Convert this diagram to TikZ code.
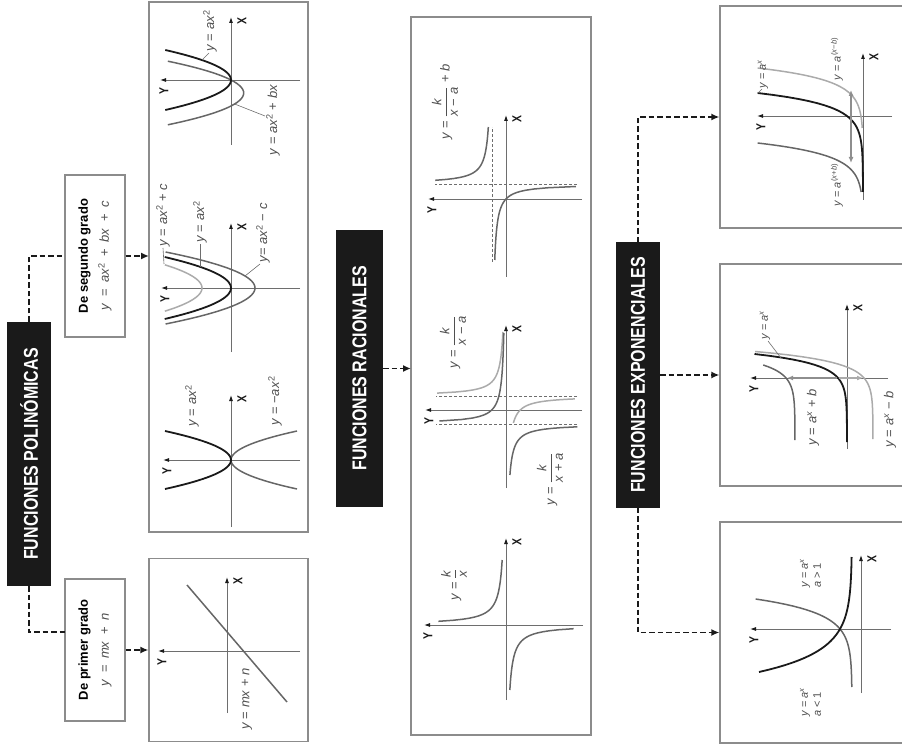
\documentclass[tikz,border=0pt]{standalone}
\usepackage{fontspec}
\usepackage{amsmath}
\usepackage{graphicx}
\setmainfont{Liberation Sans}
\usetikzlibrary{arrows.meta}

\definecolor{boxgray}{HTML}{8C8C8C}
\definecolor{axgray}{HTML}{6E6E6E}
\definecolor{midgray}{HTML}{666666}
\definecolor{lightgray2}{HTML}{ABABAB}
\definecolor{arrgray}{HTML}{8E8E8E}
\definecolor{labgray}{HTML}{505050}
\definecolor{ink}{HTML}{1A1A1A}

\newcommand\iv[1]{\textit{#1}}
\newcommand\tsc[1]{\scalebox{0.8}[1]{#1}}
% axes of one small graph: name, xmin, xmax, ymin, ymax
\newcommand\axes[5]{%
  \draw[axisline] (#2,0) -- (#3,0);
  \draw[axisline] (0,#4) -- (0,#5);
  \node[axlab] (#1x) at (#3-4,-11) {\tsc{X}};
  \node[axlab] (#1y) at (-11,#5-4) {\tsc{Y}};
}

\tikzset{
  title/.style={fill=ink, text=white, inner sep=0pt,
    font=\bfseries\fontsize{20}{24}\selectfont},
  subbox/.style={draw=boxgray, line width=1.1pt, fill=white, align=center,
    inner sep=0pt, font=\fontsize{13}{21}\selectfont},
  graphbox/.style={draw=boxgray, line width=1.2pt, inner sep=0pt},
  conn/.style={draw=ink, line width=1.8pt, dash pattern=on 5.5pt off 3pt},
  arr/.style={-{Latex[length=8pt,width=7pt]}},
  axisline/.style={draw=axgray, line width=0.9pt, -{Latex[length=6pt,width=4pt,color=ink]}},
  axlab/.style={font=\bfseries\fontsize{13}{13}\selectfont, text=ink, inner sep=0pt},
  lab/.style={font=\fontsize{13}{15}\selectfont, text=labgray, inner sep=0pt},
  smalllab/.style={font=\fontsize{11}{13}\selectfont, text=labgray, inner sep=0pt},
  cblack/.style={draw=ink, line width=1.8pt},
  cgray/.style={draw=midgray, line width=1.5pt},
  clight/.style={draw=lightgray2, line width=1.5pt},
  asym/.style={draw=axgray, line width=0.9pt, dash pattern=on 3pt off 2pt},
  lead/.style={draw=axgray, line width=0.6pt},
  shift arrow/.style={line width=1.2pt, -{Latex[length=6pt,width=5pt]}},
}

\begin{document}
\begin{tikzpicture}[x=1pt,y=1pt]
\useasboundingbox (0,0) rectangle (902,-751);
% the whole chart is laid out upright and turned a quarter turn
\begin{scope}[shift={(0,-751)}, rotate=90, transform shape]
\clip (0,0) rectangle (751,-902);

% ---------- boxes ----------
\node[title, minimum width=264, minimum height=44] (poli) at (297,-29) {\tsc{FUNCIONES POLINÓMICAS}};
\node[subbox, minimum width=142, minimum height=60] (primer) at (101,-95)
  {\textbf{De primer grado}\\{\color{labgray}\iv{y}\enspace=\enspace\iv{mx}\enspace+\enspace\iv{n}}};
\node[subbox, minimum width=162, minimum height=60] (segundo) at (495,-95)
  {\textbf{De segundo grado}\\{\color{labgray}\iv{y}\enspace=\enspace\iv{ax}\textsuperscript{2}\enspace+\enspace\iv{bx}\enspace+\enspace\iv{c}}};
\node[graphbox, minimum width=183, minimum height=159] (g1) at (101,-228.5) {};
\node[graphbox, minimum width=530, minimum height=159] (g2) at (484,-228.5) {};
\node[title, minimum width=277, minimum height=47] (rac) at (382.5,-359.5) {\tsc{FUNCIONES RACIONALES}};
\node[graphbox, minimum width=718, minimum height=180] (g3) at (375,-501) {};
\node[title, minimum width=265, minimum height=44] (expo) at (376,-638) {\tsc{FUNCIONES EXPONENCIALES}};
\node[graphbox, minimum width=221, minimum height=190] (g4) at (118.5,-815) {};
\node[graphbox, minimum width=222, minimum height=190] (g5) at (376,-815) {};
\node[graphbox, minimum width=222, minimum height=190] (g6) at (634,-815) {};

% ---------- connectors ----------
\coordinate (j1) at (119,-29);
\coordinate (e1) at (119,-65);
\draw[conn] (poli.west) -- (j1) -- (e1);
\coordinate (j2) at (495,-29);
\draw[conn] (poli.east) -- (j2) -- (segundo.north);
\draw[conn,arr] (primer.south) -- (g1.north);
\coordinate (e2) at (495,-149);
\draw[conn,arr] (segundo.south) -- (e2);
\coordinate (e3) at (382.5,-411);
\draw[conn,arr] (rac.south) -- (e3);
\coordinate (j3) at (118.5,-638);
\draw[conn,arr] (expo.west) -- (j3) -- (g4.north);
\draw[conn,arr] (expo.south) -- (g5.north);
\coordinate (j4) at (634,-638);
\draw[conn,arr] (expo.east) -- (j4) -- (g6.north);

% ---------- y = mx + n ----------
\begin{scope}[shift={(100,-227)}]
  \axes{ga}{-62}{74}{-73}{69}
  \draw[cgray] (66,40) -- (-51,-60);
  \node[lab] (la) at (-48,-20) {\iv{y} = \iv{mx} + \iv{n}};
\end{scope}

% ---------- y = ax^2 and y = -ax^2 ----------
\begin{scope}[shift={(291,-231)}]
  \axes{gb}{-67}{65}{-69}{68}
  \draw[cgray, domain=-29:29, samples=41] plot (\x,{-0.0785*\x*\x});
  \draw[cblack, domain=-29:29, samples=41] plot (\x,{0.0785*\x*\x});
  \node[lab] (lb1) at (54,39) {\iv{y} = \iv{ax}\textsuperscript{2}};
  \node[lab] (lb2) at (59,-44) {\iv{y} = −\iv{ax}\textsuperscript{2}};
\end{scope}

% ---------- vertical shifts of the parabola ----------
\begin{scope}[shift={(463,-231)}]
  \axes{gc}{-64}{65}{-69}{70}
  \draw[clight, domain=-23.2:23.2, samples=41] plot (\x,{0.069*\x*\x+29});
  \draw[cgray, domain=-36:36, samples=41] plot (\x,{0.069*\x*\x-24});
  \draw[cblack, domain=-31:31, samples=41] plot (\x,{0.069*\x*\x});
  \draw[lead] (24,67) -- (40,68);
  \node[lab, anchor=west] (lc1) at (41,68) {\iv{y} = \iv{ax}\textsuperscript{2} + \iv{c}};
  \draw[lead] (21,31) -- (44,31);
  \node[lab, anchor=west] (lc2) at (45,31) {\iv{y} = \iv{ax}\textsuperscript{2}};
  \draw[lead] (12,-14) -- (24,-29);
  \node[lab, anchor=west] (lc3) at (25,-32) {\iv{y}= \iv{ax}\textsuperscript{2} − \iv{c}};
\end{scope}

% ---------- y = ax^2 + bx ----------
\begin{scope}[shift={(671,-231)}]
  \axes{gd}{-65}{63}{-69}{71}
  \draw[cgray, domain=-44.8:18.8, samples=41] plot (\x,{0.075*(\x+13)*(\x+13)-12.7});
  \draw[cblack, domain=-30:30, samples=41] plot (\x,{0.073*\x*\x});
  \draw[lead] (20,29) -- (27,22);
  \node[lab, anchor=west] (ld1) at (28,21) {\iv{y} = \iv{ax}\textsuperscript{2}};
  \draw[lead] (-24,-3.6) -- (-36,-34);
  \node[lab] (ld2) at (-40,-42) {\iv{y} = \iv{ax}\textsuperscript{2} + \iv{bx}};
\end{scope}

% ---------- y = k/x ----------
\begin{scope}[shift={(126,-506)}]
  \axes{ge}{-75}{87}{-77}{82}
  \draw[cgray, domain=3.7:65, samples=60] plot (\x,{250/\x});
  \draw[cgray, domain=-65:-3.7, samples=60] plot (\x,{250/\x});
  \node[lab] (le) at (40,52) {$\text{\iv{y} = }\dfrac{\text{\iv{k}}}{\text{\iv{x}}}$};
\end{scope}

% ---------- horizontal shifts of the hyperbola ----------
\begin{scope}[shift={(341,-506)}]
  \axes{gf}{-78}{85}{-76}{81}
  \draw[asym] (14,-71) -- (14,70);
  \draw[asym] (-14,-71) -- (-14,70);
  \draw[clight, domain=16.9:78, samples=60] plot (\x,{200/(\x-14)});
  \draw[clight, domain=-13:11.1, samples=60] plot (\x,{200/(\x-14)});
  \draw[cgray, domain=-11:77, samples=60] plot (\x,{200/(\x+14)});
  \draw[cgray, domain=-65:-16.8, samples=60] plot (\x,{200/(\x+14)});
  \node[lab] (lf1) at (68,53) {$\text{\iv{y} = }\dfrac{\text{\iv{k}}}{\text{\iv{x} − \iv{a}}}$};
  \node[lab] (lf2) at (-69,-44) {$\text{\iv{y} = }\dfrac{\text{\iv{k}}}{\text{\iv{x} + \iv{a}}}$};
\end{scope}

% ---------- shifted hyperbola ----------
\begin{scope}[shift={(552,-506)}]
  \axes{gg}{-78}{84}{-76}{78}
  \draw[asym] (-63,14) -- (72,14);
  \draw[asym] (15,-71) -- (15,71);
  \draw[cgray, domain=18.7:72, samples=60] plot (\x,{210/(\x-15)+14});
  \draw[cgray, domain=-61:12.5, samples=60] plot (\x,{210/(\x-15)+14});
  \node[lab] (lg) at (97,61) {$\text{\iv{y} = }\dfrac{\text{\iv{k}}}{\text{\iv{x} − \iv{a}}}\text{ + \iv{b}}$};
\end{scope}

% ---------- y = a^x, a > 1 and a < 1 ----------
\begin{scope}[shift={(122,-861)}]
  \axes{gh}{-64}{74}{-30}{111}
  \draw[cgray, domain=-58:30, samples=50] plot (\x,{9+12*exp(\x/14.4)});
  \draw[cblack, domain=-43:72, samples=50] plot (\x,{9+12*exp(-\x/21)});
  \node[smalllab, anchor=west, align=left] (lh1) at (41,50.5) {\iv{y} = \iv{a}\textsuperscript{\iv{x}}\\\iv{a} > 1};
  \node[smalllab, anchor=west, align=left] (lh2) at (-88,50.5) {\iv{y} = \iv{a}\textsuperscript{\iv{x}}\\\iv{a} < 1};
\end{scope}

% ---------- vertical shifts of the exponential ----------
\begin{scope}[shift={(373,-847)}]
  \axes{gi}{-71}{74}{-41}{97}
  \draw[clight, domain=-61:26.5, samples=50] plot (\x,{-26+9*exp(\x/10.3)});
  \draw[cgray, domain=-62:13, samples=50] plot (\x,{52+9*exp(\x/10.3)});
  \draw[cblack, domain=-64:24, samples=50] plot (\x,{9*exp(\x/10.3)});
  \draw[shift arrow, draw=arrgray] (0,10) -- (0,60);
  \draw[shift arrow, draw=lightgray2] (0,8) -- (0,-16);
  \draw[lead] (20,66) -- (37,79);
  \node[smalllab, anchor=west] (li1) at (38,82) {\iv{y} = \iv{a}\textsuperscript{\iv{x}}};
  \node[lab] (li2) at (-39.5,34) {\iv{y} = \iv{a}\textsuperscript{\iv{x}} + \iv{b}};
  \node[lab] (li3) at (-41.5,-43) {\iv{y} = \iv{a}\textsuperscript{\iv{x}} − \iv{b}};
\end{scope}

% ---------- horizontal shifts of the exponential ----------
\begin{scope}[shift={(635,-863)}]
  \axes{gj}{-84}{63}{-29}{106}
  \draw[clight, domain=-12:48, samples=50] plot (\x,{16*exp((\x-25)/12.2)});
  \draw[cgray, domain=-76:-27, samples=50] plot (\x,{16*exp((\x+50)/12.2)});
  \draw[cblack, domain=-76:23, samples=50] plot (\x,{16*exp(\x/12.2)});
  \draw[line width=1.2pt, draw=arrgray, {Latex[length=6pt,width=5pt]}-{Latex[length=6pt,width=5pt]}] (-47,12) -- (26,12);
  \draw[lead] (23,105) -- (27,101);
  \node[smalllab, anchor=west] (lj1) at (27,100) {\iv{y} = \iv{a}\textsuperscript{\iv{x}}};
  \node[smalllab] (lj2) at (57,26) {\iv{y} = \iv{a}\textsuperscript{(\iv{x}−\iv{b})}};
  \node[smalllab] (lj3) at (-69,26) {\iv{y} = \iv{a}\textsuperscript{(\iv{x}+\iv{b})}};
\end{scope}

\end{scope}
\end{tikzpicture}
\end{document}
